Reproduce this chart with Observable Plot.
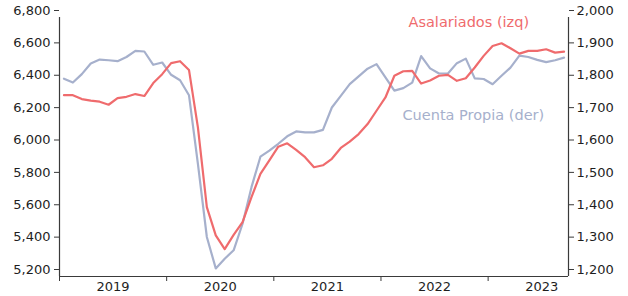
<!DOCTYPE html>
<html>
<head>
<meta charset="utf-8">
<script src="https://cdn.jsdelivr.net/npm/d3@7"></script>
<script src="https://cdn.jsdelivr.net/npm/@observablehq/plot@0.6"></script>
<style>
  html, body { margin: 0; padding: 0; background: #fff; }
  #chart { width: 628px; height: 296px; }
</style>
</head>
<body>
<div id="chart"></div>
<script>
// Years on the category axis (monthly data, Jan 2019 – Sep 2023)
const years = ["2019", "2020", "2021", "2022", "2023"];

// Asalariados (left axis, thousands)
const asalariados = [
  6320, 6320, 6296, 6286, 6280, 6261, 6302, 6310, 6327, 6315, 6395, 6450,
  6518, 6530, 6476, 6121, 5629, 5454, 5369, 5457, 5536, 5690, 5834, 5918,
  6002, 6023, 5982, 5937, 5875, 5887, 5927, 5994, 6033, 6080, 6142, 6224,
  6306, 6440, 6468, 6470, 6392, 6411, 6440, 6446, 6409, 6425, 6491, 6563,
  6624, 6641, 6610, 6577, 6594, 6594, 6604, 6583, 6589
];

// Cuenta Propia (right axis, thousands)
const cuentaPropia = [
  1811, 1799, 1825, 1858, 1870, 1868, 1865, 1878, 1897, 1895, 1854, 1861,
  1823, 1806, 1760, 1548, 1322, 1225, 1255, 1281, 1363, 1476, 1570, 1589,
  1610, 1633, 1648, 1645, 1645, 1653, 1722, 1758, 1794, 1818, 1842, 1856,
  1815, 1774, 1782, 1799, 1881, 1843, 1827, 1827, 1859, 1873, 1812, 1810,
  1794, 1820, 1845, 1882, 1878, 1869, 1862, 1868, 1876
];

// Axis tick values
const leftTicks = [5200, 5400, 5600, 5800, 6000, 6200, 6400, 6600, 6800];
const rightTicks = [1200, 1300, 1400, 1500, 1600, 1700, 1800, 1900, 2000];

// Series labels
const seriesNames = ["Asalariados (izq)", "Cuenta Propia (der)"];

// ---- build tables ----
const months = years.flatMap(y => d3.range(1, 13).map(m => `${y}-${String(m).padStart(2, "0")}`))
  .slice(0, asalariados.length);
const n = months.length;

const leftDomain = [leftTicks[0], leftTicks[leftTicks.length - 1]];
const rightDomain = [rightTicks[0], rightTicks[rightTicks.length - 1]];
const toLeft = d3.scaleLinear().domain(rightDomain).range(leftDomain);

const dataA = months.map((m, i) => ({i, month: m, v: asalariados[i]}));
const dataC = months.map((m, i) => ({i, month: m, v: toLeft(cuentaPropia[i])}));

const xDomain = [-0.5, n - 0.5];
const yearBounds = years.map((y, k) => k * 12 - 0.5);
const yearCenters = years.map((y, k) => k * 12 + 5.5);
const fmt = d3.format(",");

const red = "#ef6b6d";
const blue = "#a6b0cc";
const axisColor = "#3a3a3a";

const chart = Plot.plot({
  width: 628,
  height: 296,
  marginLeft: 59,
  marginRight: 60,
  marginTop: 17,
  marginBottom: 20,
  style: {
    fontFamily: "'DejaVu Sans', sans-serif",
    fontSize: "13px",
    color: "#1e1e1e",
    background: "#fff",
    overflow: "visible"
  },
  x: {domain: xDomain},
  y: {domain: leftDomain},
  marks: [
    // axes
    Plot.axisY({
      anchor: "left", ticks: leftTicks, tickFormat: fmt,
      tickSize: 5, tickPadding: 4, dy: -7, stroke: axisColor, label: null
    }),
    Plot.axisY({
      anchor: "right", ticks: rightTicks.map(t => toLeft(t)),
      tickFormat: d => fmt(Math.round(toLeft.invert(d))),
      tickSize: 5, tickPadding: 3, dy: -7, stroke: axisColor, label: null
    }),
    Plot.axisX({
      ticks: yearBounds, tickFormat: () => "", tickSize: 5, stroke: axisColor, label: null
    }),
    Plot.axisX({
      ticks: yearCenters, tickFormat: (d, k) => years[k], tickSize: 0, tickPadding: 5, label: null
    }),
    Plot.ruleX(xDomain, {stroke: axisColor, strokeWidth: 1.2}),
    Plot.ruleY([leftDomain[0]], {stroke: axisColor, strokeWidth: 1.2}),
    // series
    Plot.lineY(dataC, {x: "i", y: "v", stroke: blue, strokeWidth: 2.2}),
    Plot.lineY(dataA, {x: "i", y: "v", stroke: red, strokeWidth: 2.2}),
    // series labels
    Plot.text([seriesNames[0]], {
      text: d => d, frameAnchor: "top-left", textAnchor: "start", lineAnchor: "middle",
      dx: 349, dy: 5, fill: red, fontSize: 14.5
    }),
    Plot.text([seriesNames[1]], {
      text: d => d, frameAnchor: "top-left", textAnchor: "start", lineAnchor: "middle",
      dx: 343, dy: 98, fill: blue, fontSize: 14.5
    })
  ]
});

document.getElementById("chart").append(chart);
</script>
</body>
</html>
